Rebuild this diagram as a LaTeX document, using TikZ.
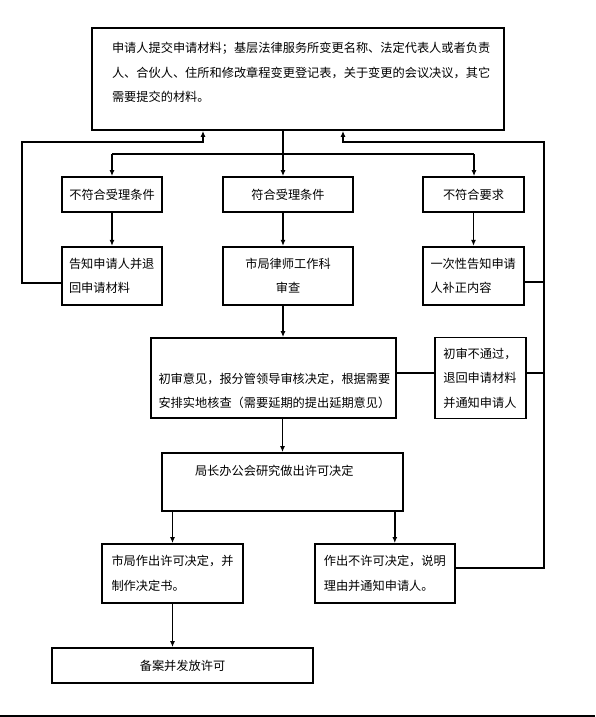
\documentclass[tikz,border=0pt]{standalone}
\usepackage{fontspec}
\newfontfamily\cjk{Noto Sans CJK SC}
\usetikzlibrary{arrows.meta,positioning}

\begin{document}
\begin{tikzpicture}[x=1pt,y=-1pt,>={Latex[length=6pt,width=5pt]},node distance=33pt and 37pt,
font=\cjk\fontsize{12.2}{24.5}\selectfont,
box/.style={draw,line width=1.8pt,inner sep=0pt,align=center},
arr/.style={->,line width=1.5pt},
conn/.style={line width=1.5pt}]
\fill[white] (0,0) rectangle (595,717);
\useasboundingbox (0,0) rectangle (595,717);
% application and first check
\node[box,minimum width=412pt,minimum height=102pt,text width=372pt,align=left] (top) at (298,79)
  {申请人提交申请材料；基层法律服务所变更名称、法定代表人或者负责\\人、合伙人、住所和修改章程变更登记表，关于变更的会议决议，其它\\需要提交的材料。\\[-11pt]\mbox{}};
\node[box,minimum width=100pt,minimum height=35pt] (n1) at (112,194.5) {不符合受理条件};
\node[box,minimum width=130pt,minimum height=35pt] (n2) at (288,194.5) {符合受理条件};
\node[box,minimum width=101pt,minimum height=35pt] (n3) at (473.5,194.5) {不符合要求};
\node[box,minimum width=100pt,minimum height=58pt,text width=86pt,align=left,below=of n1] (m1) {告知申请人并退\\回申请材料};
\node[box,minimum width=130pt,minimum height=58pt,below=of n2] (m2) {市局律师工作科\\审查};
\node[box,minimum width=101pt,minimum height=58pt,text width=86pt,align=left,below=of n3] (m3) {一次性告知申请\\人补正内容};
% review and decision
\node[box,minimum width=245pt,minimum height=80pt,text width=230pt,align=left] (big) at (273.5,378)
  {\mbox{}\\[12pt]初审意见，报分管领导审核决定，根据需要\\安排实地核查（需要延期的提出延期意见）};
\node[box,minimum width=91pt,minimum height=81pt,text width=74pt,align=left,right=of big] (rej) {初审不通过，\\退回申请材料\\并通知申请人};
\node[box,minimum width=241pt,minimum height=58pt,text width=175pt,align=left] (dec) at (282.5,482) {局长办公会研究做出许可决定\\[-1pt]\mbox{}};
\node[box,minimum width=141pt,minimum height=59pt,text width=122pt,align=left] (ok) at (172.5,573.5) {市局作出许可决定，并\\制作决定书。};
\node[box,minimum width=140pt,minimum height=59pt,text width=122pt,align=left,right=70pt of ok] (no) {作出不许可决定，说明\\理由并通知申请人。};
\node[box,minimum width=261pt,minimum height=35pt] (fin) at (182.5,665.5) {备案并发放许可};
\coordinate (spine) at (283,154);
\coordinate (brl) at (112,154);
\coordinate (brr) at (474,154);
\coordinate (lft) at (22,142);
\coordinate (rgt) at (544,142);
\coordinate (m3e) at ([yshift=-6pt]m3.east);
\coordinate (bige) at ([yshift=5pt]big.east);
\coordinate (nod) at ([xshift=10pt]no.north);
\coordinate (pl) at (0,716);
\coordinate (pr) at (595,716);
% connectors
\draw[arr] (top.south -| spine) -- (n2.north -| spine);
\draw[conn] (brl) -- (brr);
\draw[arr] (brl) -- (n1.north);
\draw[arr] (brr) -- (brr |- n3.north);
\draw[arr] (n1) -- (m1);
\draw[arr] (n2.south -| spine) -- (m2.north -| spine);
\draw[arr] (n3) -- (m3);
\draw[arr] ([yshift=-7pt]m1.west) -| (lft) -| ([xshift=-95pt]top.south);
\draw[arr] ([yshift=5.5pt]no.east) -| (rgt) -| ([xshift=45pt]top.south);
\draw[conn] (m3e) -- (m3e -| rgt);
\draw[conn] (bige) -- (bige -| rej.west);
\draw[conn] (bige -| rej.east) -- (bige -| rgt);
\draw[arr] (m2.south -| spine) -- (big.north -| spine);
\draw[arr] (big.south -| dec.north) -- (dec.north);
\draw[arr] (dec.south -| ok.north) -- (ok.north);
\draw[arr] (nod |- dec.south) -- (nod);
\draw[arr] (ok.south) -- (ok.south |- fin.north);
\draw[line width=1.7pt] (pl) -- (pr);
\end{tikzpicture}
\end{document}
